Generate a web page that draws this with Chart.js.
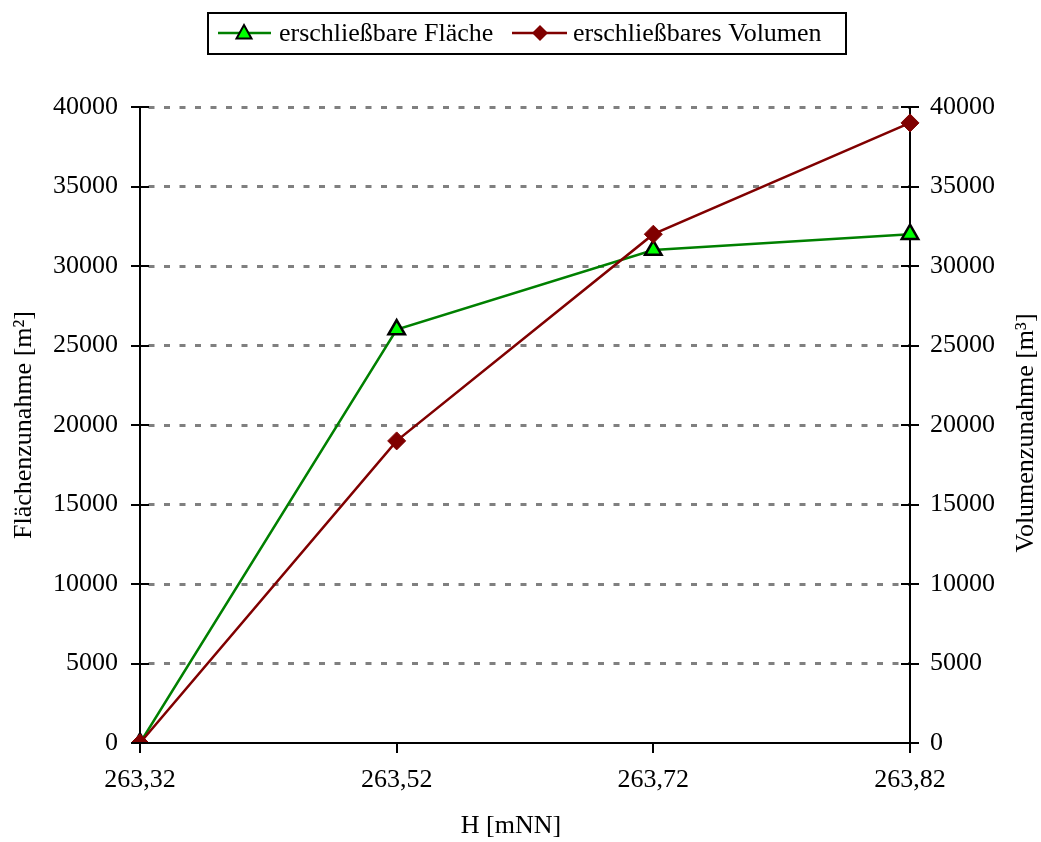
<!DOCTYPE html>
<html>
<head>
<meta charset="utf-8">
<script src="https://cdn.jsdelivr.net/npm/chart.js@4/dist/chart.umd.min.js"></script>
<style>
html,body{margin:0;padding:0;background:#fff;}
#wrap{width:1041px;height:842px;}
</style>
</head>
<body>
<div id="wrap"><canvas id="c" width="1041" height="842"></canvas></div>
<script>
const categories = ["263,32", "263,52", "263,72", "263,82"];
const flaeche = [0, 26000, 31000, 32000];
const volumen = [0, 19000, 32000, 39000];
const seriesNames = ["erschließbare Fläche", "erschließbares Volumen"];
const axisTitles = {x: "H [mNN]", left: "Flächenzunahme [m²]", right: "Volumenzunahme [m³]"};

const FONT = "'Liberation Serif', 'Times New Roman', serif";
const FS = 26;
const GREEN_LINE = "#008000", GREEN_FILL = "#00ff00", RED = "#800000";

const overlay = {
  id: 'overlay',
  afterDraw(chart) {
    const ctx = chart.ctx;
    const ca = chart.chartArea;
    ctx.save();
    ctx.strokeStyle = '#000'; ctx.lineWidth = 2;
    ['y', 'y1'].forEach(id => {
      const s = chart.scales[id];
      const xAxis = id === 'y' ? ca.left : ca.right;
      s.ticks.forEach(t => {
        const py = Math.round(s.getPixelForValue(t.value));
        ctx.beginPath(); ctx.moveTo(xAxis - 9, py); ctx.lineTo(xAxis + 9, py); ctx.stroke();
      });
    });
    ctx.fillStyle = '#000';
    ctx.font = FS + "px " + FONT;
    ctx.textAlign = 'center'; ctx.textBaseline = 'middle';
    ctx.fillText(axisTitles.x, 511, 826);
    ctx.save(); ctx.translate(24, 425); ctx.rotate(-Math.PI / 2); ctx.fillText(axisTitles.left, 0, 0); ctx.restore();
    ctx.save(); ctx.translate(1026, 433); ctx.rotate(-Math.PI / 2); ctx.fillText(axisTitles.right, 0, 0); ctx.restore();
    // legend
    ctx.strokeStyle = '#000'; ctx.lineWidth = 2;
    ctx.strokeRect(208, 13, 638, 41);
    const cy = 33;
    ctx.strokeStyle = GREEN_LINE; ctx.lineWidth = 2.5;
    ctx.beginPath(); ctx.moveTo(218, cy); ctx.lineTo(271, cy); ctx.stroke();
    ctx.lineWidth = 2;
    ctx.beginPath(); ctx.moveTo(244, cy - 8); ctx.lineTo(251.5, cy + 5.5); ctx.lineTo(236.5, cy + 5.5); ctx.closePath();
    ctx.fillStyle = GREEN_FILL; ctx.fill(); ctx.strokeStyle = '#000'; ctx.stroke();
    ctx.fillStyle = '#000'; ctx.textAlign = 'left';
    ctx.fillText(seriesNames[0], 279, cy + 1);
    ctx.strokeStyle = RED; ctx.lineWidth = 2.5;
    ctx.beginPath(); ctx.moveTo(512, cy); ctx.lineTo(567, cy); ctx.stroke();
    ctx.beginPath(); ctx.moveTo(540, cy - 8); ctx.lineTo(548, cy); ctx.lineTo(540, cy + 8); ctx.lineTo(532, cy); ctx.closePath();
    ctx.fillStyle = RED; ctx.fill();
    ctx.fillStyle = '#000';
    ctx.fillText(seriesNames[1], 573, cy + 1);
    ctx.restore();
  }
};

const plainTick = v => String(v);

new Chart(document.getElementById('c'), {
  type: 'line',
  data: {
    labels: categories,
    datasets: [
      {
        label: seriesNames[0], data: flaeche, yAxisID: 'y', order: 2,
        borderColor: GREEN_LINE, borderWidth: 2.5, backgroundColor: GREEN_FILL,
        pointStyle: 'triangle', pointRadius: 9.5, pointBorderColor: '#000', pointBorderWidth: 2.5,
        pointBackgroundColor: GREEN_FILL, tension: 0
      },
      {
        label: seriesNames[1], data: volumen, yAxisID: 'y1', order: 1,
        borderColor: RED, borderWidth: 2.5, backgroundColor: RED,
        pointStyle: 'rectRot', pointRadius: 9, pointBorderColor: RED, pointBorderWidth: 1,
        pointBackgroundColor: RED, tension: 0
      }
    ]
  },
  options: {
    responsive: false,
    animation: false,
    layout: {padding: {top: 107, left: 0, right: 0, bottom: 0}},
    plugins: {legend: {display: false}, tooltip: {enabled: false}},
    scales: {
      x: {
        type: 'category', offset: false,
        grid: {drawOnChartArea: false, drawTicks: true, tickLength: 10, color: '#000', lineWidth: 2},
        border: {display: true, color: '#000', width: 2},
        ticks: {color: '#000', font: {family: FONT, size: FS}, padding: 12, maxRotation: 0, autoSkip: false},
        afterFit(s) { s.height = 99; }
      },
      y: {
        position: 'left', min: 0, max: 40000,
        grid: {color: c => (c.tick && c.tick.value === 0 ? 'rgba(0,0,0,0)' : '#808080'), lineWidth: 3, drawTicks: false},
        border: {display: true, color: '#000', width: 2, dash: [6, 9.5], dashOffset: 8},
        ticks: {stepSize: 5000, color: '#000', font: {family: FONT, size: FS}, padding: 22, callback: plainTick},
        afterFit(s) { s.width = 140; }
      },
      y1: {
        position: 'right', min: 0, max: 40000,
        grid: {display: false, drawOnChartArea: false, drawTicks: false},
        border: {display: true, color: '#000', width: 2},
        ticks: {stepSize: 5000, color: '#000', font: {family: FONT, size: FS}, padding: 20, callback: plainTick},
        afterFit(s) { s.width = 131; }
      }
    }
  },
  plugins: [overlay]
});
</script>
</body>
</html>
